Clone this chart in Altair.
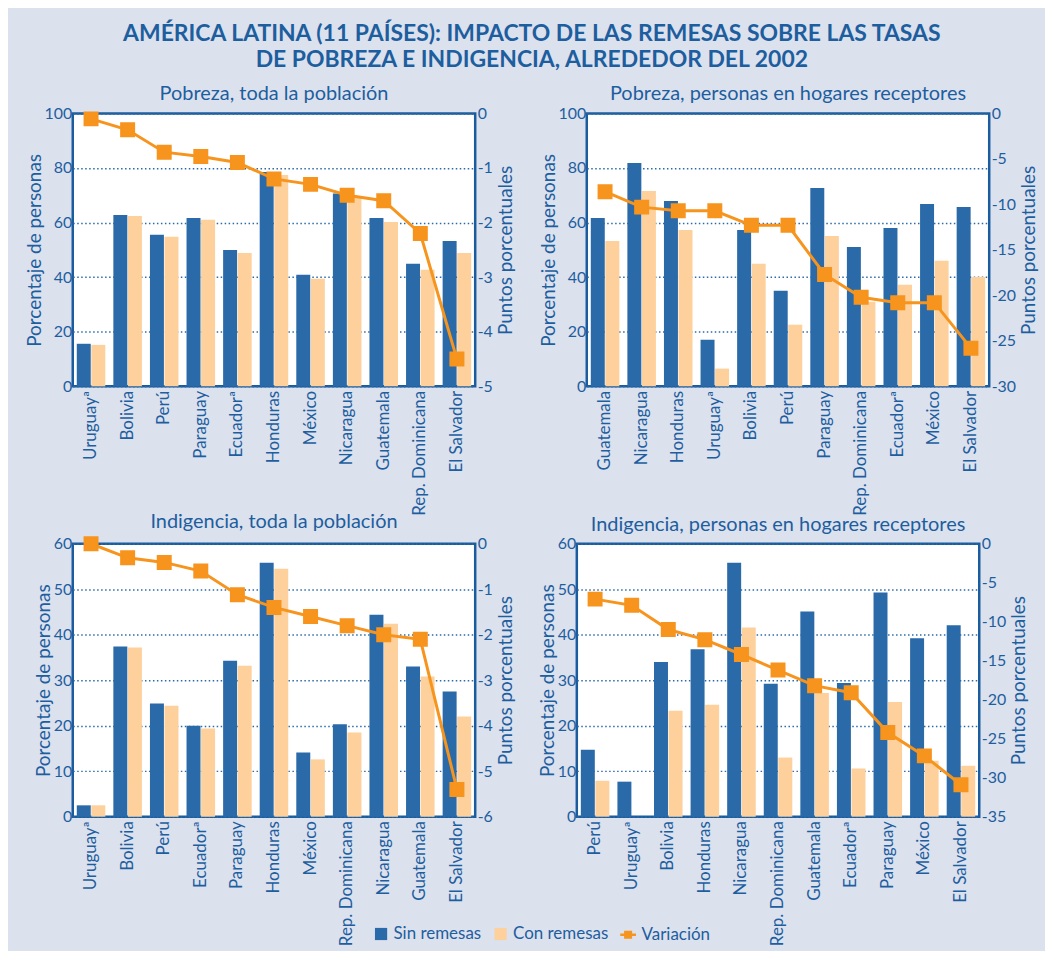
import altair as alt
import pandas as pd

BG = '#dce1ee'
TXT = '#1d5e9e'
BLUE = '#2a6aa8'
LIGHT = '#fdd09c'
ORANGE = '#f7941d'
FONT = 'Lato'

bar_series = ['Sin remesas', 'Con remesas']
line_series = ['Variación']

# Panel 1: Pobreza, toda la población
p1_paises = ['Uruguayª', 'Bolivia', 'Perú', 'Paraguay', 'Ecuadorª', 'Honduras', 'México',
             'Nicaragua', 'Guatemala', 'Rep. Dominicana', 'El Salvador']
p1_sin = [15.6, 62.8, 55.5, 61.7, 50.0, 78.5, 40.9, 70.7, 61.7, 44.9, 53.3]
p1_con = [15.2, 62.4, 54.8, 61.0, 48.9, 77.4, 39.4, 69.4, 60.2, 42.7, 48.9]
p1_var = [-0.1, -0.3, -0.71, -0.79, -0.9, -1.2, -1.3, -1.5, -1.6, -2.2, -4.5]

# Panel 2: Pobreza, personas en hogares receptores
p2_paises = ['Guatemala', 'Nicaragua', 'Honduras', 'Uruguayª', 'Bolivia', 'Perú', 'Paraguay',
             'Rep. Dominicana', 'Ecuadorª', 'México', 'El Salvador']
p2_sin = [61.7, 81.8, 67.9, 17.1, 57.3, 35.0, 72.7, 51.1, 58.0, 66.8, 65.7]
p2_con = [53.3, 71.6, 57.3, 6.5, 44.9, 22.6, 55.1, 31.0, 37.2, 46.0, 40.1]
p2_var = [-8.6, -10.3, -10.7, -10.7, -12.3, -12.3, -17.7, -20.2, -20.8, -20.8, -25.8]

# Panel 3: Indigencia, toda la población
p3_paises = ['Uruguayª', 'Bolivia', 'Perú', 'Ecuadorª', 'Paraguay', 'Honduras', 'México',
             'Rep. Dominicana', 'Nicaragua', 'Guatemala', 'El Salvador']
p3_sin = [2.5, 37.4, 24.9, 20.0, 34.3, 55.8, 14.1, 20.3, 44.4, 33.0, 27.5]
p3_con = [2.5, 37.2, 24.4, 19.4, 33.2, 54.5, 12.6, 18.5, 42.4, 30.8, 22.0]
p3_var = [0.0, -0.31, -0.41, -0.6, -1.12, -1.4, -1.6, -1.8, -2.0, -2.1, -5.4]

# Panel 4: Indigencia, personas en hogares receptores
p4_paises = ['Perú', 'Uruguayª', 'Bolivia', 'Honduras', 'Nicaragua', 'Rep. Dominicana',
             'Guatemala', 'Ecuadorª', 'Paraguay', 'México', 'El Salvador']
p4_sin = [14.7, 7.7, 34.0, 36.8, 55.8, 29.2, 45.1, 29.4, 49.3, 39.2, 42.1]
p4_con = [7.9, 0.0, 23.3, 24.6, 41.6, 13.0, 27.2, 10.6, 25.2, 12.3, 11.2]
p4_var = [-7.1, -7.9, -11.0, -12.3, -14.2, -16.2, -18.2, -19.1, -24.2, -27.2, -30.9]

LEG_Y = 815
LEG_X = 301
PW = 404
PH = 274


def panel(title, paises, sin, con, var, ymax, ystep, vmin, vstep):
    n = len(paises)
    bars = pd.DataFrame({
        'pais': paises * 2,
        'serie': [bar_series[0]] * n + [bar_series[1]] * n,
        'valor': sin + con,
    })
    line = pd.DataFrame({'pais': paises, 'var': var, 'serie': line_series * n})
    x_axis = alt.Axis(labelAngle=-90, labelFontSize=17, labelColor=TXT, labelPadding=4,
                      ticks=False, domain=False, title=None, labelFont=FONT)
    b = alt.Chart(bars).mark_bar().encode(
        x=alt.X('pais:N', sort=paises, title=None,
                scale=alt.Scale(paddingInner=0.22, paddingOuter=0.11), axis=x_axis),
        xOffset=alt.XOffset('serie:N', sort=bar_series, scale=alt.Scale(paddingInner=0.04)),
        y=alt.Y('valor:Q', scale=alt.Scale(domain=[0, ymax], nice=False),
                axis=alt.Axis(values=list(range(0, ymax + 1, ystep)), title='Porcentaje de personas',
                              grid=True, gridDash=[1.5, 2.5], gridColor=BLUE, gridWidth=1.5,
                              ticks=False, domain=False, labelPadding=1, titlePadding=0,
                              labelFontSize=16, titleFontSize=19, titleFontWeight='normal',
                              labelColor=TXT, titleColor=TXT, labelFont=FONT, titleFont=FONT)),
        color=alt.Color('serie:N', scale=alt.Scale(domain=bar_series, range=[BLUE, LIGHT]),
                        legend=alt.Legend(orient='none', legendX=LEG_X, legendY=LEG_Y,
                                          direction='horizontal', title=None, symbolType='square',
                                          symbolSize=150, symbolStrokeWidth=0, labelFontSize=17,
                                          labelColor=TXT, labelFont=FONT, columnPadding=10)),
    )
    vals = list(range(0, vmin - 1, -vstep))
    l = alt.Chart(line).mark_line(
        strokeWidth=3,
        point=alt.OverlayMarkDef(shape='square', size=170, filled=True, color=ORANGE, opacity=1),
    ).encode(
        x=alt.X('pais:N', sort=paises),
        y=alt.Y('var:Q', scale=alt.Scale(domain=[vmin, 0], nice=False),
                axis=alt.Axis(orient='right', values=vals, title='Puntos porcentuales', grid=False,
                              labelExpr="datum.value == 0 ? '0' : '-' + format(abs(datum.value), 'd')",
                              ticks=False, domain=False, labelPadding=2, titlePadding=4,
                              titleAngle=270, titleBaseline='top',
                              labelFontSize=16, titleFontSize=19, titleFontWeight='normal',
                              labelColor=TXT, titleColor=TXT, labelFont=FONT, titleFont=FONT)),
        stroke=alt.Stroke('serie:N', scale=alt.Scale(domain=line_series, range=[ORANGE]),
                          legend=alt.Legend(orient='none', legendX=LEG_X + 247, legendY=LEG_Y,
                                            direction='horizontal', title=None,
                                            symbolType='M-1,0H1M-0.35,-0.35H0.35V0.35H-0.35Z',
                                            symbolFillColor=ORANGE, symbolStrokeWidth=2.5,
                                            symbolSize=250, labelFontSize=17, labelColor=TXT,
                                            labelFont=FONT)),
    )
    return alt.layer(b, l).resolve_scale(y='independent').properties(
        width=PW, height=PH,
        title=alt.TitleParams(title, fontSize=20, fontWeight='normal', color=TXT, font=FONT,
                              anchor='middle', frame='group', offset=1),
    )


c1 = panel('Pobreza, toda la población', p1_paises, p1_sin, p1_con, p1_var, 100, 20, -5, 1)
c2 = panel('Pobreza, personas en hogares receptores', p2_paises, p2_sin, p2_con, p2_var, 100, 20, -30, 5)
c3 = panel('Indigencia, toda la población', p3_paises, p3_sin, p3_con, p3_var, 60, 10, -6, 1)
c4 = panel('Indigencia, personas en hogares receptores', p4_paises, p4_sin, p4_con, p4_var, 60, 10, -35, 5)

chart = alt.vconcat(
    alt.hconcat(c1, c2, spacing=20),
    alt.hconcat(c3, c4, spacing=20),
    spacing=-6,
).properties(
    title=alt.TitleParams(
        ['AMÉRICA LATINA (11 PAÍSES): IMPACTO DE LAS REMESAS SOBRE LAS TASAS',
         'DE POBREZA E INDIGENCIA, ALREDEDOR DEL 2002'],
        fontSize=23, fontWeight='bold', color=TXT, font=FONT, anchor='middle', lineHeight=26,
        offset=11),
    background=BG,
    padding={'left': 15, 'top': 13, 'right': 5, 'bottom': 2},
).configure_view(
    fill='white', stroke='#1b5c9e', strokeWidth=2.5
).configure_legend(
    labelLimit=200
)

chart.save('out.html', embed_options={'renderer': 'svg', 'actions': False})
